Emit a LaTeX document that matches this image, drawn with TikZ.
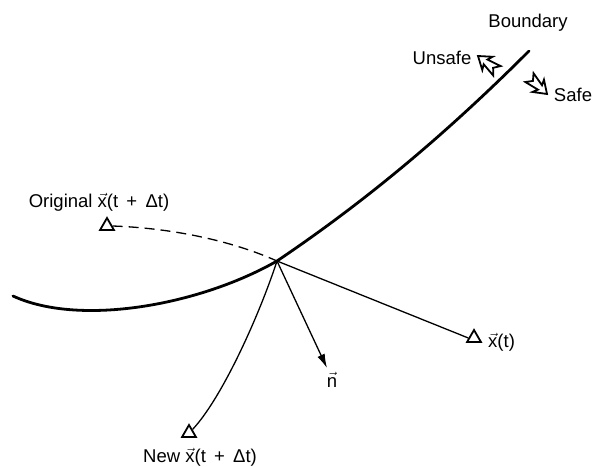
\documentclass[tikz,border=0pt]{standalone}
\usepackage{fontspec}
\setmainfont{Liberation Sans}
\usetikzlibrary{shapes.geometric,arrows.meta}
\newcommand{\vx}{$\vec{\mbox{x}}$}
\newcommand{\vn}{$\vec{\mbox{n}}$}
\begin{document}
\begin{tikzpicture}[x=1pt,y=-1pt,
  lbl/.style={font=\fontsize{18.5}{22}\selectfont, inner sep=0pt},
  tri/.style={draw, regular polygon, regular polygon sides=3, minimum size=16pt, inner sep=0pt, line width=1.8pt},
  thin line/.style={line width=1.3pt},
  bound/.style={line width=2.8pt},
  hollow/.style={draw, line width=1.8pt, line join=miter}]
\useasboundingbox (0,0) rectangle (593,466);

% points
\coordinate (P) at (277,261);
\coordinate (B0) at (13,296);
\coordinate (B1) at (529,51);

% boundary
\draw[bound, line cap=round] (B0) .. controls (80,327) and (200,305) .. (P)
  .. controls (360,205) and (440,140) .. (B1);

% triangles
\node[tri] (orig) at (107,226) {};
\node[tri] (xt) at (474,338) {};
\node[tri] (new) at (189,433) {};

% labels
\node[lbl] (boundary) at (528,23) {Boundary};
\node[lbl] (unsafe) at (442,58) {Unsafe};
\node[lbl] (safe) at (573,95) {Safe};
\node[lbl] (origlbl) at (99,202) {Original \vx(t \,+\, Δt)};
\node[lbl, anchor=west] (xtlbl) at (488,342) {\vx(t)};
\node[lbl] (newlbl) at (200,457) {New \vx(t \,+\, Δt)};
\coordinate (ntip) at (327,368);
\node[lbl] (nlbl) at (332,380) {\vn};

% connectors
\draw[thin line, dash pattern=on 10pt off 6pt] (orig.east) .. controls (170,228) and (230,240) .. (P);
\draw[thin line] (P) -- (xt.west);
\draw[thin line, -{Latex[length=14pt,width=8pt]}] (P) -- (ntip);
\draw[thin line] (P) .. controls (259,316) and (222,398) .. (new.north east);

% hollow arrows
\begin{scope}[shift={(478,56)}, rotate=142, scale=1.2]
  \draw[hollow] (0,0) -- (-10,7) -- (-8,2.5) -- (-20,5) -- (-16,0) -- (-20,-5) -- (-8,-2.5) -- (-10,-7) -- cycle;
\end{scope}
\begin{scope}[shift={(547,94)}, rotate=-43, scale=1.2]
  \draw[hollow] (0,0) -- (-10,7) -- (-8,2.5) -- (-20,5) -- (-16,0) -- (-20,-5) -- (-8,-2.5) -- (-10,-7) -- cycle;
\end{scope}
\end{tikzpicture}
\end{document}
